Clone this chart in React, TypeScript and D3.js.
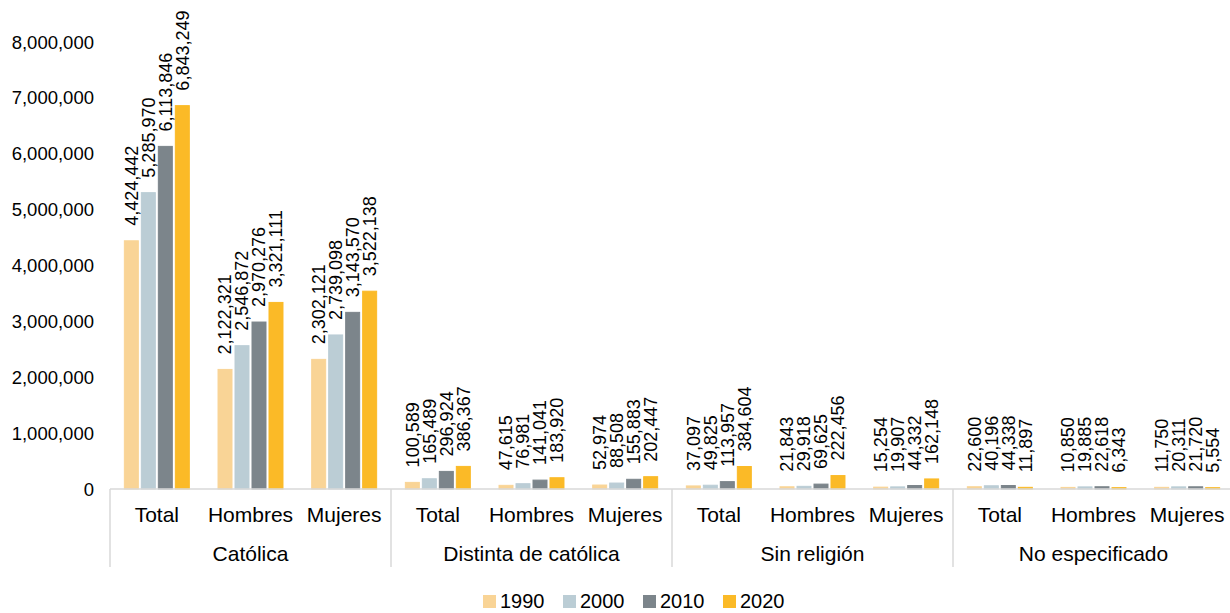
import React from 'react';
import * as d3 from 'd3';

const parents = ['Católica', 'Distinta de católica', 'Sin religión', 'No especificado'];
const subs = ['Total', 'Hombres', 'Mujeres'];
const years = ['1990', '2000', '2010', '2020'];
const colors = ['#F9D496', '#BBCDD5', '#7C858B', '#FBBA27'];

// values per year, in order parent x sub
const v1990 = [4424442, 2122321, 2302121, 100589, 47615, 52974, 37097, 21843, 15254, 22600, 10850, 11750];
const v2000 = [5285970, 2546872, 2739098, 165489, 76981, 88508, 49825, 29918, 19907, 40196, 19885, 20311];
const v2010 = [6113846, 2970276, 3143570, 296924, 141041, 155883, 113957, 69625, 44332, 44338, 22618, 21720];
const v2020 = [6843249, 3321111, 3522138, 386367, 183920, 202447, 384604, 222456, 162148, 11897, 6343, 5554];
const yTicks = [0, 1000000, 2000000, 3000000, 4000000, 5000000, 6000000, 7000000, 8000000];

const series = [v1990, v2000, v2010, v2020];

export default function App() {
  const width = 1230, height = 613;
  const left = 110, right = 1234, top = 42, bottom = 489;
  const font = '"Liberation Sans", Arial, sans-serif';

  const groups = parents.flatMap((p) => subs.map((s) => p + '|' + s));
  const x = d3.scaleBand().domain(groups).range([left, right]);
  const xInner = d3.scaleBand().domain(years).range([0, x.bandwidth()]).paddingInner(0.118).paddingOuter(0.815);
  const y = d3.scaleLinear().domain([0, 8000000]).range([bottom, top]);
  const fmt = d3.format(',');
  const parentW = x.bandwidth() * subs.length;

  return (
    <svg width={width} height={height} style={{ position: 'absolute', left: 0, top: 0, background: '#fff' }} fontFamily={font}>
      {yTicks.map((t) => (
        <text key={t} x={94} y={y(t) + 6.5} textAnchor="end" fontSize={18.5} fill="#000">{fmt(t)}</text>
      ))}
      {groups.map((g, gi) => (
        <g key={g} transform={`translate(${x(g)},0)`}>
          {years.map((yr, si) => {
            const val = series[si][gi];
            const bx = xInner(yr)!;
            const cx = bx + xInner.bandwidth() / 2;
            const ty = y(val) - 16;
            return (
              <g key={yr}>
                <rect x={bx + 0.5} y={y(val) - 1} width={xInner.bandwidth() - 1} height={bottom - y(val) + 1}
                  fill={colors[si]} stroke={colors[si]} strokeWidth={1} />
                <text transform={`translate(${cx},${ty}) rotate(-90)`} dy="0.35em" fontSize={18} fill="#000">{fmt(val)}</text>
              </g>
            );
          })}
          <text x={x.bandwidth() / 2} y={522} textAnchor="middle" fontSize={21} fill="#000">{subs[gi % 3]}</text>
        </g>
      ))}
      <line x1={left} x2={right} y1={bottom} y2={bottom} stroke="#D9D9D9" strokeWidth={1.5} />
      {parents.map((p, pi) => (
        <g key={p}>
          <line x1={left + pi * parentW} x2={left + pi * parentW} y1={bottom} y2={567} stroke="#D9D9D9" strokeWidth={1.5} />
          <text x={left + pi * parentW + parentW / 2} y={561} textAnchor="middle" fontSize={21} fill="#000">{p}</text>
        </g>
      ))}
      {years.map((yr, i) => (
        <g key={yr} transform={`translate(${483 + i * 80},595)`}>
          <rect width={13} height={13} fill={colors[i]} />
          <text x={17} y={13} fontSize={20} fill="#000">{yr}</text>
        </g>
      ))}
    </svg>
  );
}
